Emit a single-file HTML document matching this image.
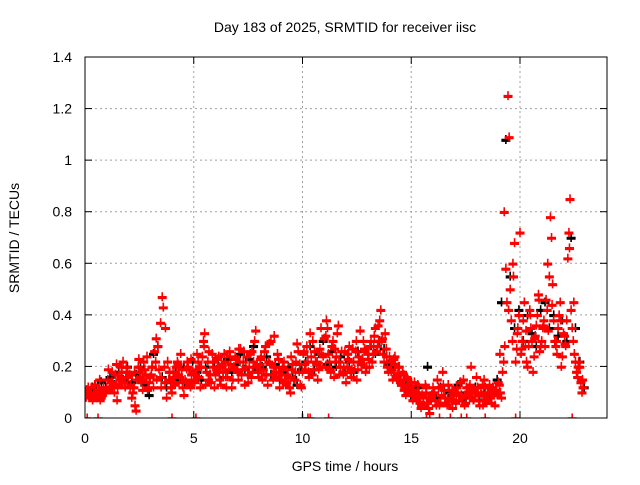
<!DOCTYPE html>
<html><head><meta charset="utf-8"><style>
body{margin:0;background:#fff;}
svg text{font-family:"Liberation Sans",sans-serif;font-size:14px;fill:#000;}
</style></head><body>
<svg id="chart" width="640" height="480" viewBox="0 0 640 480" xmlns="http://www.w3.org/2000/svg">
<rect width="640" height="480" fill="#fff"/>
<g id="grid"></g>
<g id="marks" clip-path="url(#clip)"></g>
<defs><clipPath id="clip"><rect x="85" y="50" width="522" height="368"/></clipPath></defs>
<rect x="85" y="57" width="522" height="361" fill="none" stroke="#000" stroke-width="1"/>
<g id="axes"></g>
<text x="345" y="32" text-anchor="middle">Day 183 of 2025, SRMTID for receiver iisc</text>
<text x="345" y="471" text-anchor="middle">GPS time / hours</text>
<text x="19" y="238" text-anchor="middle" transform="rotate(-90 19 238)">SRMTID / TECUs</text>
</svg>
<script>
const xTicks=[0,5,10,15,20];
const yTicks=[0,0.2,0.4,0.6,0.8,1,1.2,1.4];
const yTickLabels=["0","0.2","0.4","0.6","0.8","1","1.2","1.4"];
const redA=[0.10,0.09,0.12,0.08,0.10,0.11,0.07,0.09,0.10,0.12,0.11,0.14,0.13,0.17,0.12,0.15,0.18,0.14,0.20,0.16,0.13,0.10,0.05,0.15,0.18,0.14,0.22,0.17,0.12,0.16,0.20,0.26,0.15,0.19,0.12,0.43,0.35,0.22,0.18,0.10,0.14,0.20,0.17,0.25,0.12,0.15,0.22,0.13,0.17,0.15,0.19,0.22,0.12,0.24,0.33,0.18,0.26,0.14,0.20,0.17,0.23,0.15,0.20,0.25,0.12,0.19,0.21,0.15,0.24,0.18,0.22,0.17,0.26,0.20,0.14,0.25,0.18,0.30,0.21,0.16,0.24,0.19,0.28,0.13,0.21,0.17,0.32,0.18,0.23,0.15,0.20,0.14,0.17,0.12,0.19,0.15,0.22,0.26,0.13,0.18,0.21,0.28,0.16,0.24,0.19,0.22,0.15,0.27,0.20,0.31,0.38,0.25,0.18,0.30,0.22,0.33,0.17,0.26,0.20,0.14,0.23,0.18,0.27,0.19,0.15,0.24,0.21,0.30,0.18,0.25,0.28,0.22,0.32,0.26,0.30,0.42,0.25,0.33,0.20,0.24,0.19,0.23,0.16,0.20,0.14,0.18,0.12,0.16,0.10,0.14,0.11,0.08,0.13,0.06,0.09,0.05,0.10,0.04,0.08,0.12,0.07,0.15,0.05,0.09,0.11,0.06,0.13,0.08,0.04,0.10,0.12,0.07,0.09,0.15,0.06,0.10,0.13,0.08,0.11,0.16,0.07,0.10,0.05,0.12,0.08,0.13,0.06,0.09,0.11,0.14,0.10,0.18,0.28,0.45,1.09,0.38,0.55,0.22,0.35,0.72,0.30,0.45,0.22,0.28,0.35,0.18,0.32,0.40,0.26,0.30,0.38,0.46,0.34,0.78,0.52,0.30,0.25,0.40,0.20,0.33,0.28,0.62,0.85,0.35,0.25,0.18,0.22,0.14,0.12];
const redB=[0.08,0.12,0.10,0.07,0.13,0.09,0.11,0.08,0.12,0.10,0.15,0.12,0.18,0.10,0.21,0.13,0.16,0.22,0.12,0.18,0.17,0.08,0.12,0.03,0.20,0.16,0.11,0.19,0.24,0.14,0.17,0.12,0.22,0.28,0.16,0.47,0.20,0.08,0.15,0.12,0.18,0.13,0.22,0.16,0.19,0.09,0.14,0.20,0.12,0.18,0.14,0.25,0.16,0.20,0.30,0.13,0.22,0.17,0.25,0.12,0.19,0.24,0.13,0.18,0.22,0.16,0.26,0.12,0.20,0.23,0.15,0.27,0.19,0.13,0.24,0.20,0.16,0.22,0.34,0.18,0.21,0.15,0.26,0.17,0.22,0.30,0.15,0.20,0.25,0.12,0.17,0.22,0.13,0.16,0.10,0.21,0.15,0.29,0.18,0.12,0.25,0.19,0.22,0.33,0.17,0.26,0.21,0.19,0.35,0.24,0.20,0.35,0.22,0.28,0.16,0.24,0.36,0.20,0.18,0.26,0.20,0.28,0.16,0.22,0.26,0.19,0.34,0.23,0.27,0.20,0.23,0.30,0.25,0.35,0.28,0.38,0.30,0.22,0.27,0.18,0.22,0.15,0.24,0.17,0.20,0.13,0.17,0.09,0.15,0.12,0.09,0.14,0.07,0.10,0.04,0.08,0.13,0.06,0.02,0.09,0.10,0.05,0.12,0.06,0.18,0.08,0.05,0.11,0.07,0.09,0.06,0.10,0.14,0.08,0.05,0.12,0.09,0.20,0.07,0.10,0.12,0.05,0.09,0.15,0.06,0.10,0.08,0.12,0.05,0.09,0.13,0.08,0.22,0.58,1.25,0.50,0.30,0.68,0.27,0.40,0.25,0.38,0.28,0.20,0.42,0.30,0.24,0.36,0.48,0.28,0.35,0.28,0.42,0.55,0.70,0.38,0.28,0.35,0.45,0.24,0.32,0.38,0.72,0.42,0.30,0.22,0.16,0.20,0.10];
const redC=[0.11,0.09,0.13,0.15,0.10,0.19,0.14,0.07,0.20,0.16,0.12,0.18,0.23,0.15,0.11,0.20,0.31,0.37,0.14,0.18,0.16,0.21,0.14,0.19,0.23,0.17,0.20,0.28,0.15,0.22,0.18,0.21,0.16,0.24,0.19,0.27,0.22,0.17,0.26,0.20,0.23,0.17,0.29,0.20,0.16,0.19,0.14,0.24,0.18,0.21,0.26,0.18,0.30,0.22,0.25,0.32,0.19,0.27,0.22,0.17,0.25,0.19,0.30,0.22,0.26,0.20,0.28,0.36,0.31,0.24,0.18,0.21,0.15,0.11,0.13,0.07,0.10,0.05,0.12,0.07,0.10,0.06,0.13,0.08,0.11,0.07,0.14,0.09,0.12,0.07,0.09,0.13,0.07,0.11,0.10,0.25,0.80,0.42,0.60,0.33,0.27,0.34,0.40,0.31,0.46,0.36,0.60,0.44,0.30,0.38,0.29,0.66,0.45,0.20,0.15];
const black=[0.10,0.12,0.09,0.14,0.12,0.16,0.13,0.18,0.15,0.20,0.14,0.17,0.20,0.13,0.09,0.25,0.28,0.16,0.12,0.14,0.18,0.15,0.20,0.13,0.22,0.18,0.15,0.20,0.17,0.22,0.20,0.16,0.23,0.18,0.21,0.25,0.19,0.23,0.28,0.19,0.20,0.24,0.17,0.21,0.15,0.18,0.20,0.16,0.13,0.19,0.22,0.28,0.19,0.25,0.30,0.21,0.26,0.20,0.24,0.18,0.22,0.18,0.26,0.23,0.20,0.28,0.25,0.30,0.27,0.21,0.20,0.16,0.13,0.15,0.10,0.08,0.12,0.06,0.20,0.09,0.08,0.12,0.06,0.10,0.09,0.13,0.07,0.10,0.08,0.12,0.07,0.10,0.09,0.12,0.15,0.45,1.08,0.55,0.35,0.42,0.30,0.40,0.33,0.28,0.42,0.45,0.35,0.40,0.32,0.38,0.30,0.70,0.35,0.22,0.12];
const zeroTimes=[0.1,0.6,4.0,5.1,10.0,10.25,10.35,11.2,15.7,16.3,16.8,17.3,17.55,18.4,19.8,22.4];

const X0=85,X1=607,Y0=418,Y1=57;
const xs=h=>X0+(h/24)*(X1-X0);
const ys=v=>Y0-(v/1.4)*(Y0-Y1);
const NS='http://www.w3.org/2000/svg';
const grid=document.getElementById('grid'),axes=document.getElementById('axes'),marks=document.getElementById('marks');
function mk(tag,attrs,parent){const e=document.createElementNS(NS,tag);for(const k in attrs)e.setAttribute(k,attrs[k]);parent.appendChild(e);return e;}
xTicks.forEach(t=>{
  const x=xs(t);
  if(t>0){const g=mk('line',{x1:x,y1:Y0,x2:x,y2:Y1,stroke:'#a0a0a0','stroke-dasharray':'2,3'},grid);
  
  }
  mk('line',{x1:x,y1:Y0,x2:x,y2:Y0-7,stroke:'#000'},axes);
  mk('line',{x1:x,y1:Y1,x2:x,y2:Y1+7,stroke:'#000'},axes);
  const tx=mk('text',{x:x,y:443,'text-anchor':'middle'},axes);tx.textContent=String(t);
  
  
});
yTicks.forEach((t,i)=>{
  const y=ys(t);
  if(t>0&&t<1.4){const g=mk('line',{x1:X0,y1:y,x2:X1,y2:y,stroke:'#a0a0a0','stroke-dasharray':'2,3'},grid);
  
  }
  mk('line',{x1:X0,y1:y,x2:X0+7,y2:y,stroke:'#000'},axes);
  mk('line',{x1:X1,y1:y,x2:X1-7,y2:y,stroke:'#000'},axes);
  const tx=mk('text',{x:72,y:y+5,'text-anchor':'end'},axes);tx.textContent=yTickLabels[i];
  
  
});
function plus(h,v,color,name){
  const x=xs(h),y=ys(v);
  const p=mk('path',{d:`M${x-4.5},${y}h9M${x},${y-4.5}v9M${x-4.5},${y+1.5}h9`,stroke:color,'stroke-width':1.6,fill:'none'},marks);
  
  
}
black.forEach((v,i)=>plus(0.15+i*0.2,v,'#000','point-black'));
redC.forEach((v,i)=>plus(0.075+i*0.2,v,'#f00','point-red'));
redA.forEach((v,i)=>plus(0.1+i*0.1,v,'#f00','point-red'));
redB.forEach((v,i)=>plus(0.05+i*0.1,v,'#f00','point-red'));
zeroTimes.forEach(t=>plus(t,0,'#f00','point-zero'));
</script>
</body></html>
